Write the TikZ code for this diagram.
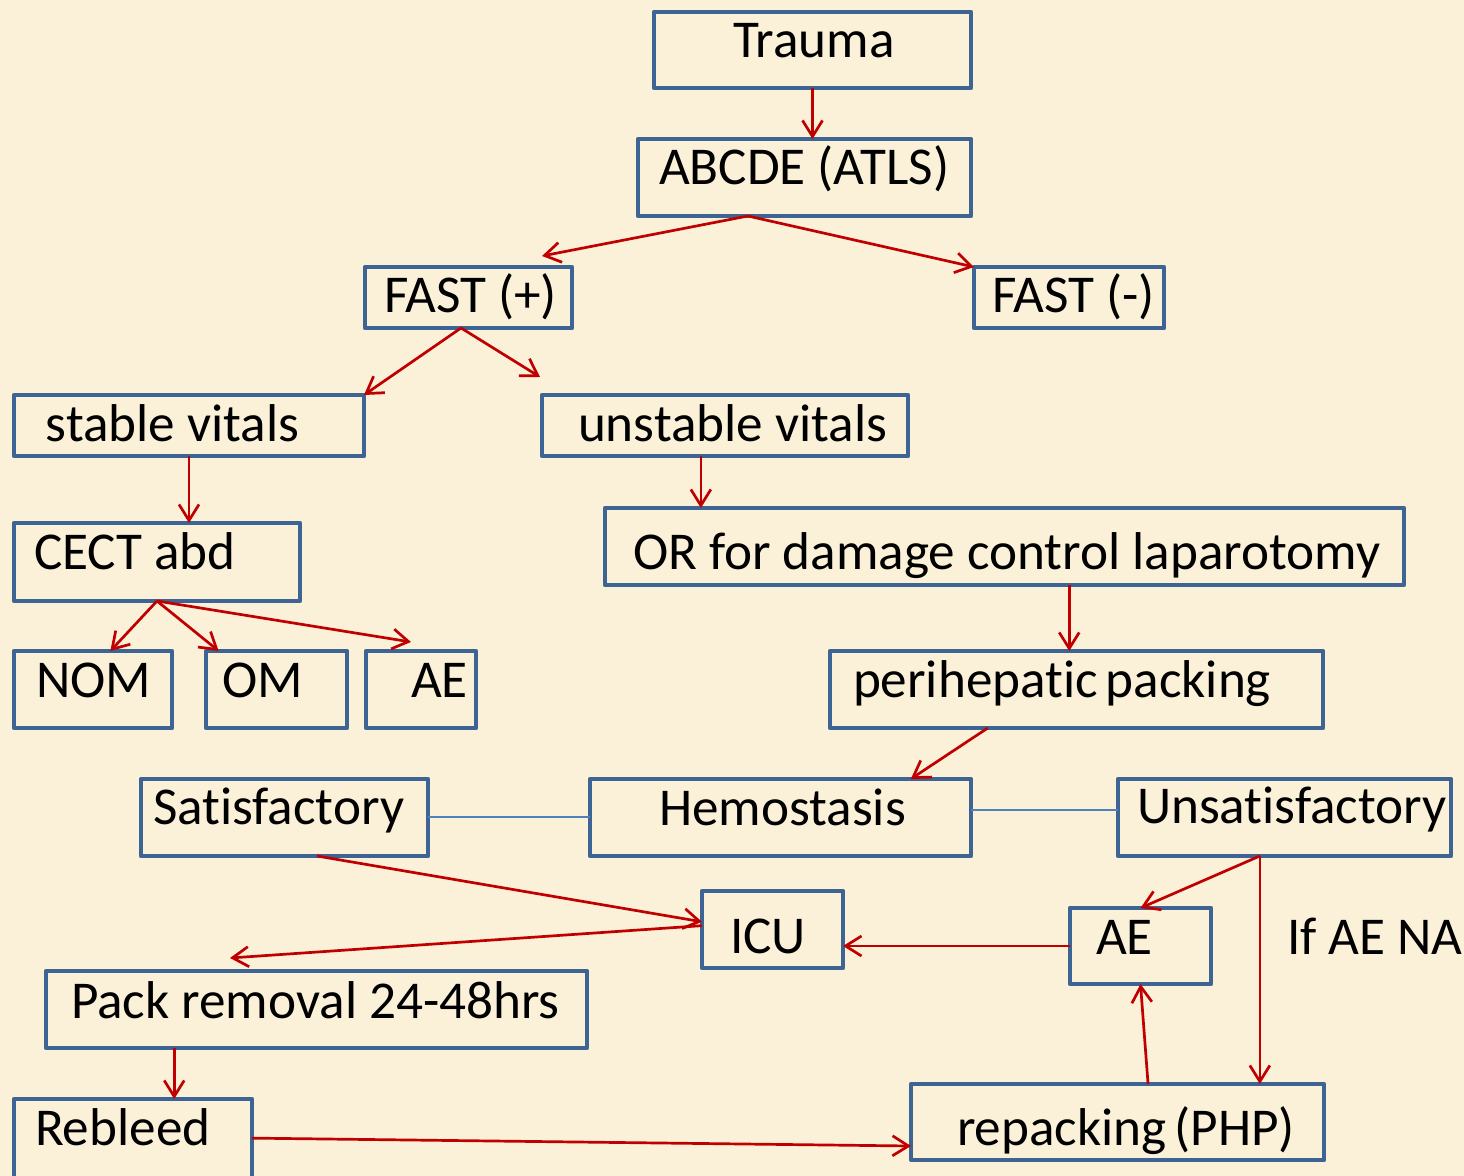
\documentclass[tikz,border=0pt]{standalone}
\usepackage{fontspec}
\setmainfont{Carlito}[Ligatures=NoCommon]
\usetikzlibrary{arrows.meta,calc,fit}
\definecolor{bg}{RGB}{251,241,216}
\definecolor{boxblue}{RGB}{62,100,148}
\definecolor{arrred}{RGB}{192,0,0}
\definecolor{linkblue}{RGB}{79,129,189}
\begin{document}
\begin{tikzpicture}[x=0.5pt,y=-0.5pt,
  box/.style={draw=boxblue,line width=2.3pt,line join=round,inner sep=0pt,outer sep=0pt,rectangle},
  txt/.style={anchor=base west,inner sep=0pt,outer sep=0pt,font=\fontsize{26.6pt}{31pt}\selectfont},
  arr/.style={draw=arrred,line width=1.35pt,-{Straight Barb[length=8pt,width=10pt]}},
  link/.style={draw=linkblue,line width=1pt}]
\useasboundingbox (0,0) rectangle (1464,1176);
\clip (0,0) rectangle (1464,1176);
\fill[bg] (0,0) rectangle (1464,1176);
% boxes
\node[box,fit={(654,12) (971,88)}] (trauma) {};
\node[box,fit={(638,139) (971,216)}] (abcde) {};
\node[box,fit={(365,267) (572,328)}] (fastp) {};
\node[box,fit={(974,267) (1164,328)}] (fastm) {};
\node[box,fit={(14,395) (364,456)}] (stable) {};
\node[box,fit={(542,395) (908,456)}] (unstable) {};
\node[box,fit={(14,523) (300,601)}] (cect) {};
\node[box,fit={(605,508) (1404,585)}] (or) {};
\node[box,fit={(14,651) (172,728)}] (nom) {};
\node[box,fit={(206,651) (347,728)}] (om) {};
\node[box,fit={(366,651) (476,728)}] (aeone) {};
\node[box,fit={(830,651) (1323,728)}] (peri) {};
\node[box,fit={(141,779) (428,856)}] (satis) {};
\node[box,fit={(590,779) (971,856)}] (hemo) {};
\node[box,fit={(1118,779) (1451,856)}] (unsat) {};
\node[box,fit={(702,891) (843,968)}] (icu) {};
\node[box,fit={(1070,908) (1211,984)}] (aetwo) {};
\node[box,fit={(46,971) (587,1048)}] (pack) {};
\node[box,fit={(14,1099) (252,1190)}] (rebleed) {};
\node[box,fit={(911,1084) (1324,1160)}] (repack) {};
% texts
\node[txt] (trauma-t) at (733,58) {Trauma};
\node[txt] (abcde-t) at (659,185) {ABCDE (ATLS)};
\node[txt] (fastp-t) at (384,313) {FAST (+)};
\node[txt] (fastm-t) at (992,313) {FAST (-)};
\node[txt] (stable-t) at (46,442) {stable vitals};
\node[txt] (unstable-t) at (578,442) {unstable vitals};
\node[txt] (cect-t) at (34,570) {CECT abd};
\node[txt] (or-t) at (633,570) {OR for damage control laparotomy};
\node[txt] (nom-t) at (36,698) {NOM};
\node[txt] (om-t) at (222,698) {OM};
\node[txt] (aeone-t) at (411,698) {AE};
\node[txt] (peri-t) at (853,698) {perihepatic\hspace{-0.08em} packing};
\node[txt] (satis-t) at (153,825) {Satisfactory};
\node[txt] (hemo-t) at (659,826) {Hemostasis};
\node[txt] (unsat-t) at (1137,824) {Unsatisfactory};
\node[txt] (icu-t) at (730,954) {ICU};
\node[txt] (aetwo-t) at (1096,955) {AE};
\node[txt] (ifae-t) at (1287,955) {If AE NA};
\node[txt] (pack-t) at (71,1018) {Pack removal 24-48hrs};
\node[txt] (rebleed-t) at (35,1145) {Rebleed};
\node[txt] (repack-t) at (957,1145) {repacking\hspace{-0.08em} (PHP)};
% free ends
\coordinate (fastp-end) at (542,256);
\coordinate (unst-end) at (540,377);
\coordinate (aeone-end) at (411,642);
\coordinate (pack-end) at (230,958);
% connectors
\draw[arr] (trauma.south) -- (trauma.south |- abcde.north);
\coordinate (abx) at ($(abcde.south west)!0.33!(abcde.south east)$);
\draw[arr] (abx) -- (fastp-end);
\draw[arr] (abx) -- (fastm.north west);
\coordinate (fpx) at ($(fastp.south west)!0.464!(fastp.south east)$);
\draw[arr] (fpx) -- (stable.north east);
\draw[arr] (fpx) -- (unst-end);
\draw[arr] (stable.south) -- (stable.south |- cect.north);
\draw[arr] (cect.south) -- ($(nom.north west)!0.61!(nom.north east)$);
\draw[arr] (cect.south) -- ($(om.north west)!0.09!(om.north east)$);
\draw[arr] (cect.south) -- (aeone-end);
\coordinate (unx) at ($(unstable.south west)!0.434!(unstable.south east)$);
\draw[arr] (unx) -- (unx |- or.north);
\coordinate (orx) at ($(or.south west)!0.581!(or.south east)$);
\draw[arr] (orx) -- (orx |- peri.north);
\draw[arr] ($(peri.south west)!0.32!(peri.south east)$) -- ($(hemo.north west)!0.842!(hemo.north east)$);
\draw[link] (satis.east) -- (hemo.west);
\coordinate (hex) at ($(hemo.north east)!0.4!(hemo.south east)$);
\draw[link] (hex) -- (hex -| unsat.west);
\draw[arr] ($(satis.south west)!0.613!(satis.south east)$) -- ($(icu.north west)!0.4!(icu.south west)$);
\draw[arr] ($(icu.north west)!0.45!(icu.south west)$) -- (pack-end);
\draw[arr] (aetwo.west) -- (aetwo.west -| icu.east);
\coordinate (usx) at ($(unsat.south west)!0.426!(unsat.south east)$);
\draw[arr] (usx) -- (aetwo.north);
\draw[arr] (usx) -- (usx |- repack.north);
\draw[arr] ($(repack.north west)!0.574!(repack.north east)$) -- (aetwo.south);
\coordinate (pkx) at ($(pack.south west)!0.237!(pack.south east)$);
\draw[arr] (pkx) -- (pkx |- rebleed.north);
\draw[arr] ($(rebleed.north east)!0.43!(rebleed.south east)$) -- ($(repack.north west)!0.816!(repack.south west)$);
\end{tikzpicture}
\end{document}
